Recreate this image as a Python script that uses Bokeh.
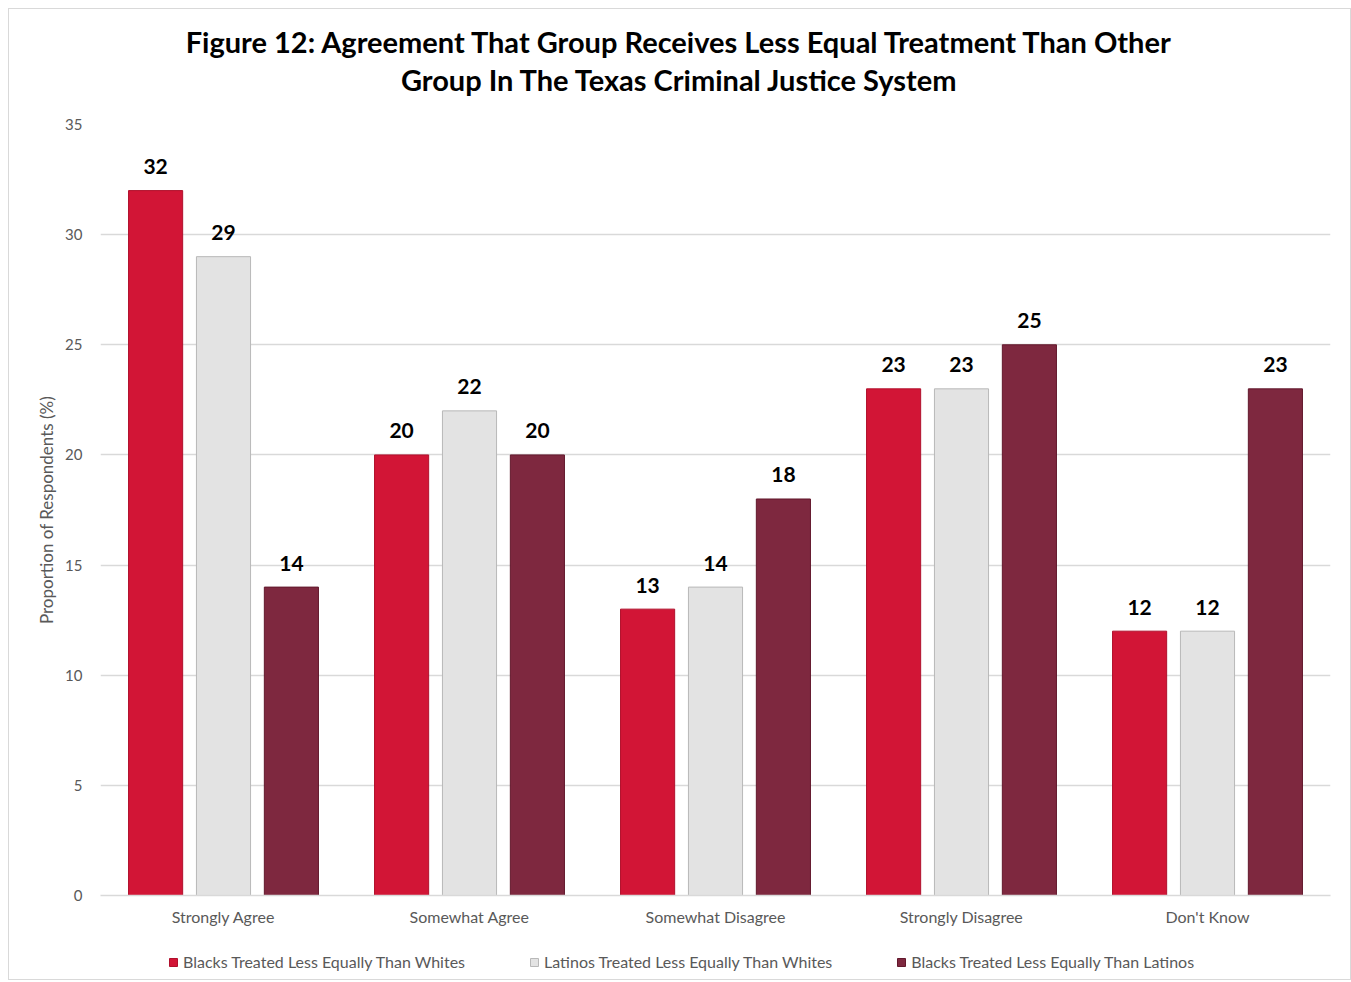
from bokeh.plotting import figure
from bokeh.layouts import column
from bokeh.models import ColumnDataSource, FactorRange, Range1d, Legend, LegendItem, SingleIntervalTicker
from bokeh.transform import dodge
from bokeh.core.properties import value
from bokeh.embed import file_html
from bokeh.resources import INLINE

categories = ["Strongly Agree", "Somewhat Agree", "Somewhat Disagree", "Strongly Disagree", "Don't Know"]
blacks_vs_whites = [32, 20, 13, 23, 12]
latinos_vs_whites = [29, 22, 14, 23, 12]
blacks_vs_latinos = [14, 20, 18, 25, 23]
series_names = ["Blacks Treated Less Equally Than Whites",
                "Latinos Treated Less Equally Than Whites",
                "Blacks Treated Less Equally Than Latinos"]
title_lines = ["Figure 12: Agreement That Group Receives Less Equal Treatment Than Other",
               "Group In The Texas Criminal Justice System"]
colors = ["#D21536", "#E3E3E3", "#7E283F"]
edge_colors = ["#B0102C", "#B8B8B8", "#62182C"]

FONT = "Lato"
W = 1341
LEFT, FRAME_W, RIGHT = 91, 1230, 20

# ---------- header (two centred title lines) ----------
HEAD_H = 105
head = figure(width=W, height=HEAD_H, x_range=Range1d(LEFT, LEFT + FRAME_W), y_range=Range1d(0, HEAD_H),
              x_axis_type=None, y_axis_type=None, output_backend="svg", toolbar_location=None,
              min_border=0)
head.outline_line_color = None
head.grid.visible = False
head_src = ColumnDataSource(dict(x=[W / 2, W / 2], y=[HEAD_H - 32, HEAD_H - 70], t=title_lines))
head.text(x="x", y="y", text="t", source=head_src, text_align="center", text_baseline="middle",
          text_font=value(FONT), text_font_size="29px", text_font_style="bold", text_color="#000000")

# ---------- main chart ----------
src = ColumnDataSource(dict(
    cat=categories,
    s1=blacks_vs_whites, s2=latinos_vs_whites, s3=blacks_vs_latinos,
    t1=[str(v) for v in blacks_vs_whites],
    t2=[str(v) for v in latinos_vs_whites],
    t3=[str(v) for v in blacks_vs_latinos],
))

p = figure(x_range=FactorRange(*categories), y_range=Range1d(0, 35),
           frame_width=FRAME_W, frame_height=771, output_backend="svg", toolbar_location=None,
           min_border_left=LEFT, min_border_right=RIGHT, min_border_top=10, min_border_bottom=40)

offsets = [-0.276, 0.0, 0.276]
for i, (col, tcol) in enumerate([("s1", "t1"), ("s2", "t2"), ("s3", "t3")]):
    p.vbar(x=dodge("cat", offsets[i], range=p.x_range), top=col, width=0.22, source=src,
           fill_color=colors[i], line_color=edge_colors[i], line_width=1)
    p.text(x=dodge("cat", offsets[i], range=p.x_range), y=col, text=tcol, source=src,
           text_align="center", text_baseline="alphabetic", y_offset=-24,
           text_font=value(FONT), text_font_size="21px", text_font_style="bold", text_color="#000000")

p.outline_line_color = None
p.xgrid.grid_line_color = None
p.ygrid.grid_line_color = "#D9D9D9"
p.ygrid.grid_line_width = 1.3

p.yaxis.ticker = SingleIntervalTicker(interval=5)
p.yaxis.axis_line_color = None
p.yaxis.major_tick_line_color = None
p.yaxis.minor_tick_line_color = None
p.yaxis.major_label_text_font = FONT
p.yaxis.major_label_text_font_size = "15px"
p.yaxis.major_label_text_color = "#595959"
p.yaxis.major_label_standoff = 12
p.yaxis.axis_label = "Proportion of Respondents (%)"
p.yaxis.axis_label_text_font = FONT
p.yaxis.axis_label_text_font_size = "17px"
p.yaxis.axis_label_text_font_style = "normal"
p.yaxis.axis_label_text_color = "#595959"
p.yaxis.axis_label_standoff = 5

p.xaxis.axis_line_color = "#D9D9D9"
p.xaxis.axis_line_width = 1.3
p.xaxis.major_tick_line_color = None
p.xaxis.minor_tick_line_color = None
p.xaxis.major_label_text_font = FONT
p.xaxis.major_label_text_font_size = "16px"
p.xaxis.major_label_text_color = "#595959"
p.xaxis.major_label_standoff = 5

p.x_range.range_padding = 0
p.x_range.group_padding = 0

# ---------- legend strip ----------
LEG_H = 44
leg = figure(width=W, height=LEG_H, x_range=Range1d(0, 1), y_range=Range1d(0, 1),
             x_axis_type=None, y_axis_type=None, output_backend="svg", toolbar_location=None,
             min_border=0)
leg.outline_line_color = None
leg.grid.visible = False
items = []
for i in range(3):
    # placeholder swatch kept outside the visible range; only its legend entry shows
    r = leg.vbar(x=[0.5], bottom=[-3], top=[-2], width=0.1,
                 fill_color=colors[i], line_color=edge_colors[i])
    items.append(LegendItem(label=series_names[i], renderers=[r]))
legend = Legend(items=items, orientation="horizontal", location=(68, 8))
legend.label_text_font = FONT
legend.label_text_font_size = "16px"
legend.label_text_color = "#595959"
legend.glyph_width = 10
legend.glyph_height = 10
legend.spacing = 64
legend.label_standoff = 5
legend.border_line_color = None
legend.background_fill_alpha = 0
legend.padding = 4
legend.margin = 0
leg.add_layout(legend, "center")

layout = column(head, p, leg, spacing=0)
layout.styles = {"border": "1px solid #D9D9D9", "margin-left": "8px", "margin-top": "8px"}

open("out.html", "w").write(file_html(layout, INLINE))
